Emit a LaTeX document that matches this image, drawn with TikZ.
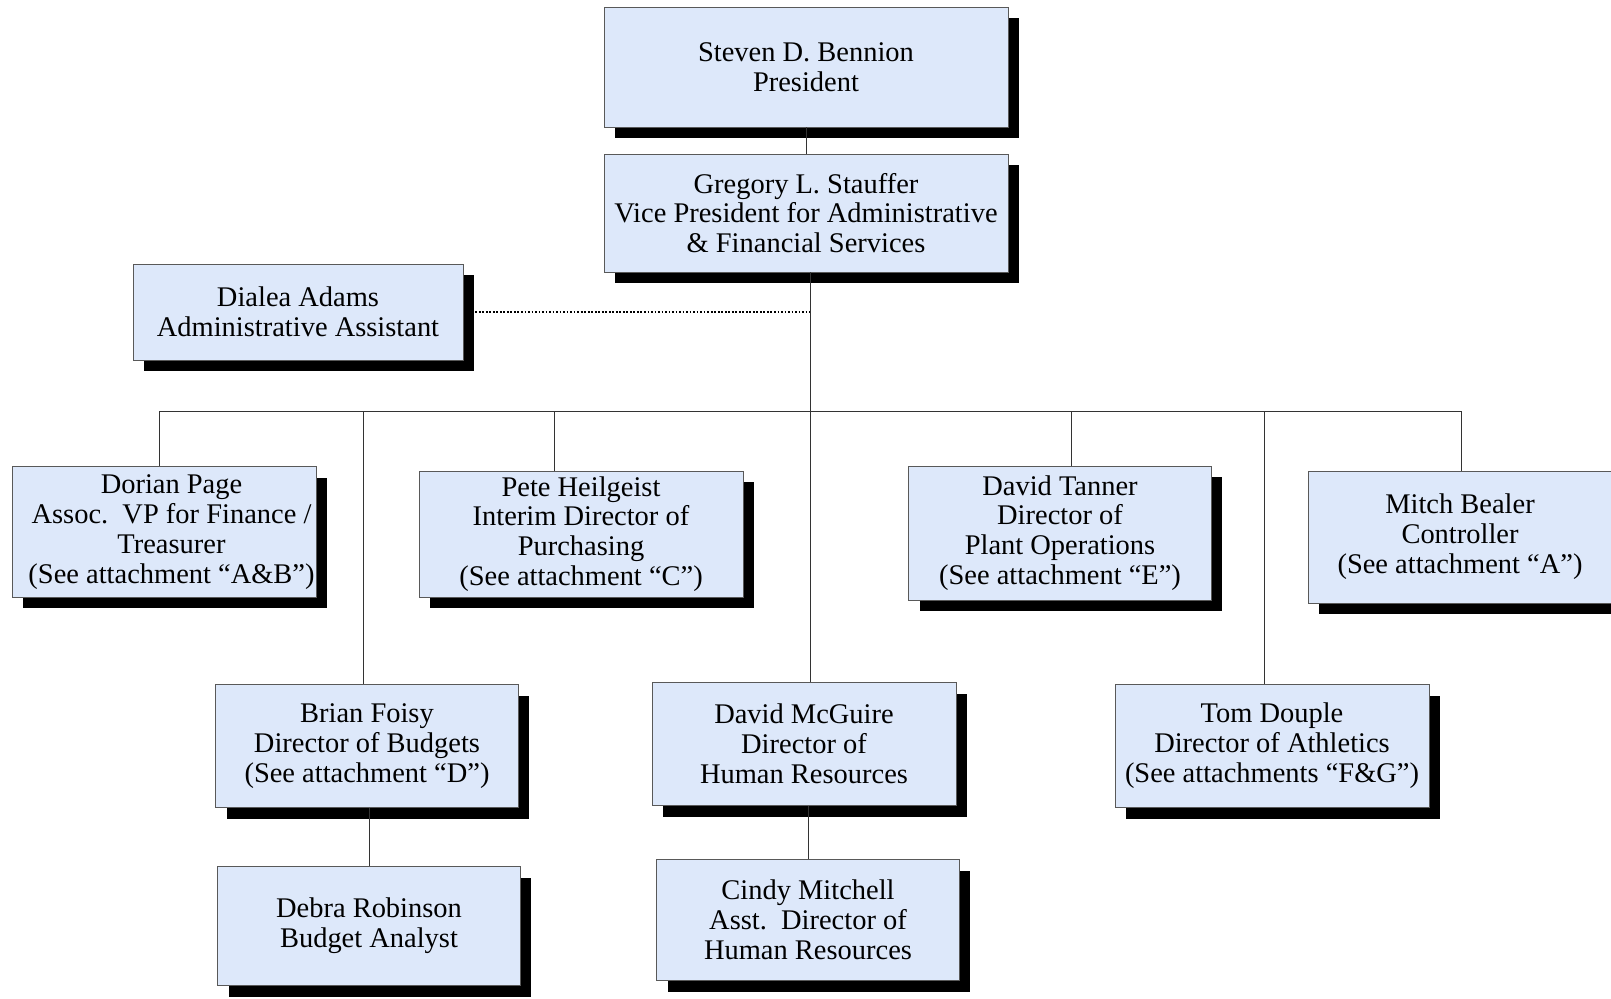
\documentclass[tikz,border=0pt]{standalone}
\usepackage{fontspec}
\setmainfont{Liberation Serif}
\usepackage{tikz}
\usetikzlibrary{shadows}
\definecolor{boxblue}{RGB}{221,232,250}
\tikzstyle{person}=[rectangle, draw=black!65, fill=boxblue, thin, align=center,
                inner sep=0pt, font=\fontsize{16.2}{17}\selectfont,
                drop shadow={shadow xshift=2.2mm, shadow yshift=-2.2mm, opacity=1, fill=black}]
\tikzstyle{link}=[draw=black!80, thin]

\begin{document}
\begin{tikzpicture}[x=0.02cm, y=-0.02cm]
    \useasboundingbox (0,0) rectangle (1611,998);

    % top of the chart
    \node[person, minimum width=8.08cm, minimum height=2.40cm] (pres) at (806,67)
        {Steven D. Bennion\\President};
    \node[person, minimum width=8.08cm, minimum height=2.36cm] (vp) at (806,213)
        {Gregory L. Stauffer\\Vice President for Administrative\\\& Financial Services};
    \node[person, minimum width=6.60cm, minimum height=1.92cm] (dialea) at (298,312)
        {Dialea Adams\\Administrative Assistant};

    % second row
    \node[person, minimum width=6.08cm, minimum height=2.62cm] (dorian) at (164,532)
        {\hspace{0.3cm}Dorian Page\\\hspace{0.3cm}Assoc.\ \ VP for Finance /\\\hspace{0.3cm}Treasurer\\\hspace{0.3cm}(See attachment “A\&B”)};
    \node[person, minimum width=6.48cm, minimum height=2.52cm] (pete) at (581,534)
        {Pete Heilgeist\\Interim Director of\\Purchasing\\(See attachment “C”)};
    \node[person, minimum width=6.06cm, minimum height=2.68cm] (tanner) at (1060,533)
        {David Tanner\\Director of\\Plant Operations\\(See attachment “E”)};
    \node[person, minimum width=6.08cm, minimum height=2.64cm] (mitch) at (1460,537)
        {Mitch Bealer\\Controller\\(See attachment “A”)};

    % third row
    \node[person, minimum width=6.06cm, minimum height=2.46cm] (brian) at (367,746)
        {Brian Foisy\\Director of Budgets\\(See attachment “D”)};
    \node[person, minimum width=6.08cm, minimum height=2.46cm] (mcguire) at (804,744)
        {David McGuire\\Director of\\Human Resources};
    \node[person, minimum width=6.28cm, minimum height=2.46cm] (tom) at (1272,746)
        {Tom Douple\\Director of Athletics\\(See attachments “F\&G”)};

    % bottom row
    \node[person, minimum width=6.06cm, minimum height=2.38cm] (debra) at (369,926)
        {Debra Robinson\\Budget Analyst};
    \node[person, minimum width=6.06cm, minimum height=2.42cm] (cindy) at (808,920)
        {Cindy Mitchell\\Asst.\ \ Director of\\Human Resources};

    % connect the boxes
    \coordinate (hub) at (810,411);
    \draw[link] (pres.south) -- (vp.north);
    \draw[link] (hub |- vp.south) -- (hub);
    \draw[black, line width=0.9pt, dash pattern=on 1pt off 1pt]
        ([xshift=2.4mm]dialea.east) -- (dialea.east -| hub);

    \foreach \who/\dx in {dorian/-5, brian/-4, pete/-27, tanner/11, tom/-8, mitch/1}
        \draw[link] (hub) -| ([xshift=\dx*0.02cm]\who.north);
    \draw[link] (hub) -- (hub |- mcguire.north);

    \draw[link] (debra.north) -- (debra.north |- brian.south);
    \draw[link] (cindy.north) -- (cindy.north |- mcguire.south);
\end{tikzpicture}
\end{document}
